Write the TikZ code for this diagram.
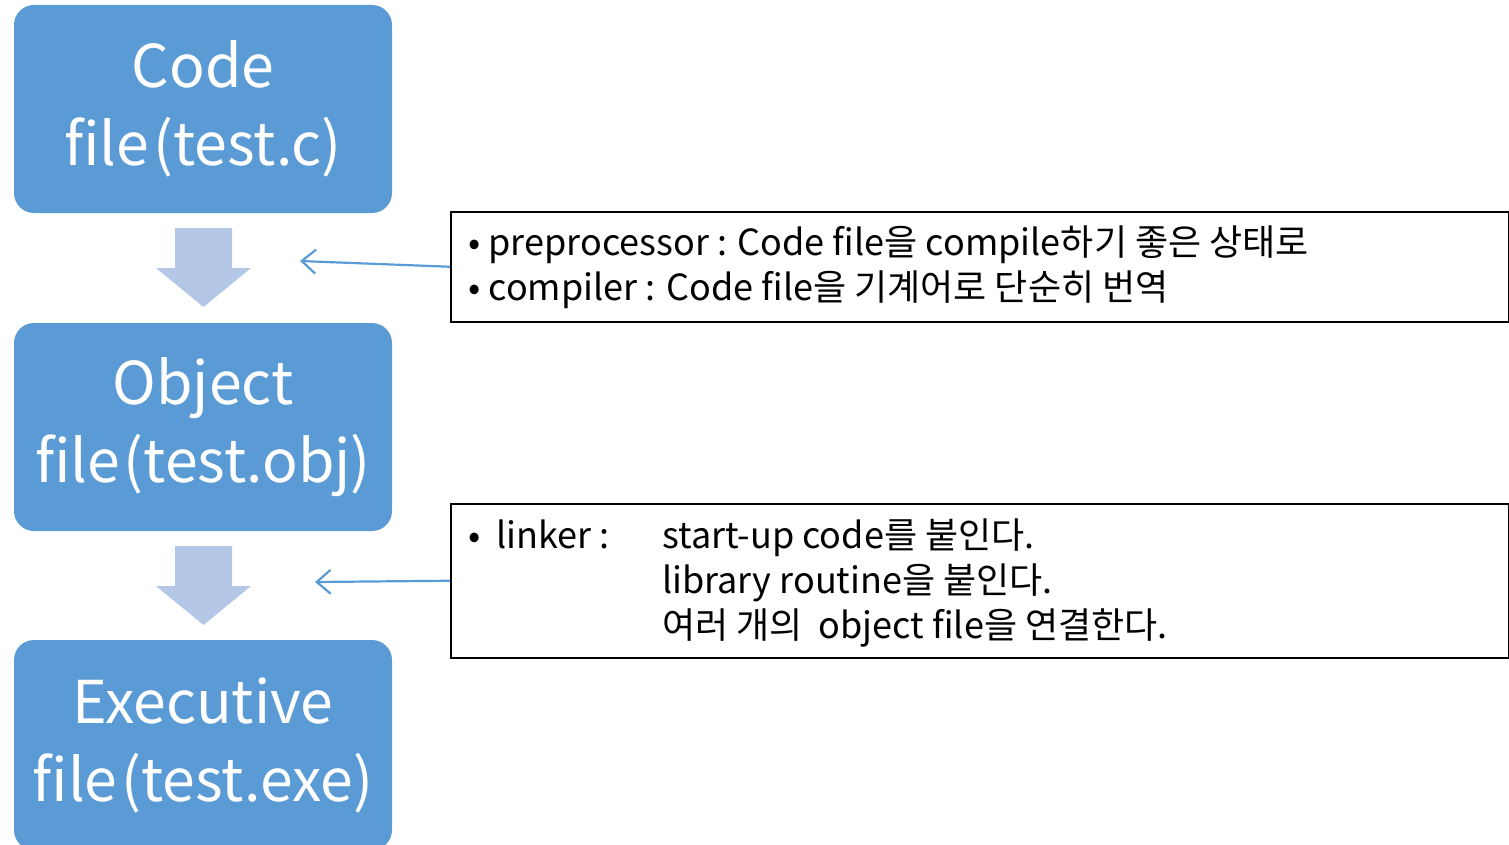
\documentclass[tikz,border=0pt]{standalone}
\usepackage{fontspec}
\setmainfont{Noto Sans CJK KR}
\usetikzlibrary{arrows.meta}
\definecolor{boxblue}{HTML}{5B9BD5}
\definecolor{arrowblue}{HTML}{B4C7E7}
\tikzset{
  bluebox/.style={fill=boxblue, draw=none, rounded corners=20pt, minimum width=378pt, minimum height=208pt, text=white, align=center, font=\fontsize{59}{78}\selectfont},
  notebox/.style={draw=black, line width=1.5pt, anchor=north west, minimum width=1058pt},
  notetext/.style={anchor=base west, font=\fontsize{36}{45}\selectfont, inner sep=0pt},
  blockarrow/.style={fill=arrowblue, draw=none},
  pointer/.style={draw=boxblue, line width=2.2pt, -{Straight Barb[length=14pt,width=24pt,line width=2.2pt]}}
}
\begin{document}
\begin{tikzpicture}[x=1pt,y=-1pt]
\useasboundingbox (0,0) rectangle (1509,845);
\node[bluebox] (code) at (203,109) {Code\\file\hspace{4pt}(test.c)};
\node[bluebox] (obj) at (203,427) {Object\\file\hspace{4pt}(test.obj)};
\node[bluebox, minimum height=210pt] (exe) at (203,745) {Executive\\file\hspace{4pt}(test.exe)};
% block arrows
\fill[blockarrow] (175,228) -- (232,228) -- (232,268) -- (251,268) -- (203.5,307) -- (156,268) -- (175,268) -- cycle;
\fill[blockarrow] (175,546) -- (232,546) -- (232,586) -- (251,586) -- (203.5,625) -- (156,586) -- (175,586) -- cycle;
% note boxes
\node[notebox, minimum height=110pt] (n1) at (450,211) {};
\node[notebox, minimum height=154pt] (n2) at (450,503) {};
\node[notetext] (t1) at (468,255) {• preprocessor : Code file을 compile하기 좋은 상태로};
\node[notetext] (t2) at (468,300) {• compiler : Code file을 기계어로 단순히 번역};
\node[notetext] (l0) at (468,548) {•\ \ linker :};
\node[notetext] (l1) at (662,548) {start-up code를 붙인다.};
\node[notetext] (l2) at (662,593) {library routine을 붙인다.};
\node[notetext] (l3) at (662,638) {여러 개의\ \ object file을 연결한다.};
% pointers
\coordinate (p1) at (300,261);
\coordinate (p2) at (315,582);
\draw[pointer] (n1.west) -- (p1);
\draw[pointer] (n2.west) -- (p2);
\end{tikzpicture}
\end{document}
